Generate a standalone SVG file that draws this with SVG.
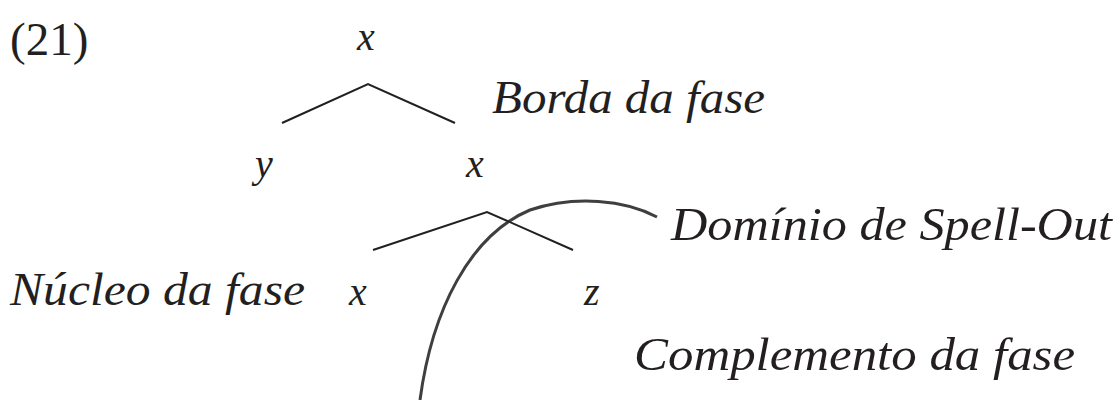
<svg xmlns="http://www.w3.org/2000/svg" width="1119" height="400" viewBox="0 0 1119 400">
<style>
.num{font-family:"Liberation Serif",serif;font-size:47px;fill:#231f20}
.v{font-family:"Liberation Serif",serif;font-style:italic;font-size:40px;fill:#231f20}
.lab{font-family:"Liberation Serif",serif;font-style:italic;font-size:46px;fill:#231f20}
.br{stroke:#231f20;stroke-width:2;fill:none}
</style>
<rect width="1119" height="400" fill="#fff"/>
<text class="num" x="10" y="55">(21)</text>
<g id="root"><text class="v" x="357" y="50">x</text></g>
<g id="y"><text class="v" x="255" y="177">y</text></g>
<g id="xbar"><text class="v" x="466" y="177">x</text></g>
<g id="head"><text class="v" x="349" y="305">x</text></g>
<g id="z"><text class="v" x="584" y="305">z</text></g>
<g id="borda"><text class="lab" x="492" y="113" textLength="273" lengthAdjust="spacingAndGlyphs">Borda da fase</text></g>
<g id="nucleo"><text class="lab" x="10" y="305" textLength="295" lengthAdjust="spacingAndGlyphs">Núcleo da fase</text></g>
<g id="dominio"><text class="lab" x="671" y="240" textLength="441" lengthAdjust="spacingAndGlyphs">Domínio de Spell-Out</text></g>
<g id="complemento"><text class="lab" x="634" y="370" textLength="441" lengthAdjust="spacingAndGlyphs">Complemento da fase</text></g>
<g id="connectors">
<polyline class="br" points="282,123 368,84 455,123"/>
<polyline class="br" points="373,250 487,212 573,250"/>
<path d="M657,217 C625,200 575,195 530,210 C470,235 432,310 420,400" stroke="#2a2a2a" stroke-width="3" fill="none" opacity="0.9"/>
</g>
</svg>
